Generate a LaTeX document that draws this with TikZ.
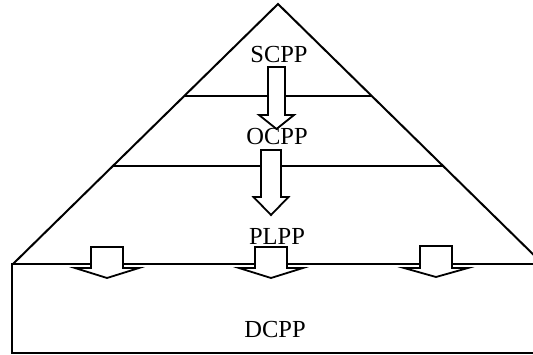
\documentclass[tikz,border=0pt]{standalone}
\usepackage{fontspec}
\setmainfont{Liberation Serif}
\tikzset{
  edge/.style={line width=2pt, line join=miter},
  label/.style={font=\fontsize{24.5}{24.5}\selectfont, inner sep=0pt},
  blockarrow/.style={edge, fill=white, line width=1.8pt}
}
% block arrow: #1 centre x, #2 shaft top, #3 head base, #4 tip, #5 shaft half width, #6 head half width
\newcommand\blockdown[6]{%
  \draw[blockarrow] (#1-#5,#2) -- (#1+#5,#2) -- (#1+#5,#3) -- (#1+#6,#3)
    -- (#1,#4) -- (#1-#6,#3) -- (#1-#5,#3) -- cycle;}
\begin{document}
\begin{tikzpicture}[x=1pt,y=-1pt]
  \useasboundingbox (0,0) rectangle (533,355);
  \clip (0,0) rectangle (533,355);
  \fill[white] (0,0) rectangle (533,355);

  % pyramid and its layers
  \coordinate (apex) at (278,4);
  \coordinate (bl) at (13,264);
  \coordinate (br) at (543,264);
  \draw[edge] (bl) -- (apex) -- (br);
  \draw[edge] (184,96) -- (372,96);
  \draw[edge] (113,166) -- (443,166);

  % base block
  \draw[edge] (540,264) -- (12,264) -- (12,353) -- (540,353);

  % arrows between the layers
  \blockdown{276.5}{67}{115}{129}{8.5}{17.5}
  \blockdown{271}{150}{197}{215}{10}{17.5}
  \blockdown{107}{247}{268}{278}{16}{32}
  \blockdown{271}{247}{268}{278}{16}{32}
  \blockdown{436}{246}{268}{277}{16}{32}

  % layer labels
  \node[label] (scpp) at (279,55) {SCPP};
  \node[label] (ocpp) at (277,137) {OCPP};
  \node[label] (plpp) at (277,236) {PLPP};
  \node[label] (dcpp) at (275,330) {DCPP};
\end{tikzpicture}
\end{document}
